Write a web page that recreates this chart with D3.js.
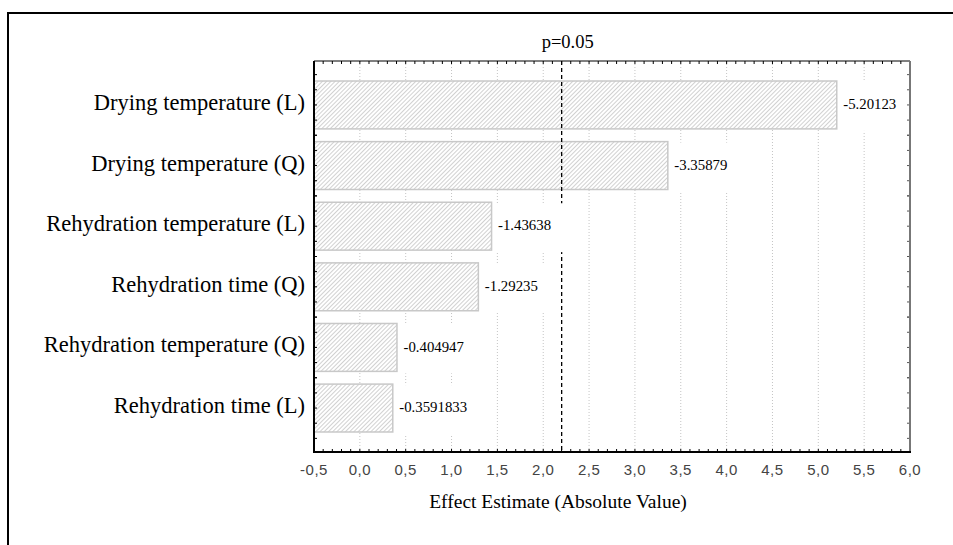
<!DOCTYPE html>
<html>
<head>
<meta charset="utf-8">
<script src="https://cdn.jsdelivr.net/npm/d3@7"></script>
<style>
  body { margin: 0; background: #fff; overflow: hidden; }
  svg { display: block; overflow: hidden; }
  .cat-label { font-family: "Liberation Serif", "Times New Roman", serif; font-size: 22.5px; fill: #000; }
  .val-label { font-family: "Liberation Serif", "Times New Roman", serif; font-size: 14.8px; fill: #000; }
  .tick-label { font-family: "Liberation Sans", Arial, sans-serif; font-size: 15px; fill: #444; letter-spacing: 0.5px; }
  .title { font-family: "Liberation Serif", "Times New Roman", serif; font-size: 18.5px; fill: #000; }
  .x-title { font-family: "Liberation Serif", "Times New Roman", serif; font-size: 19.5px; fill: #000; }
</style>
</head>
<body>
<div id="chart"></div>
<script>
////////////////////////////////////////////////////////////////////
////////////////////////////  Data  ////////////////////////////////
const factors = [
  "Drying temperature (L)",
  "Drying temperature (Q)",
  "Rehydration temperature (L)",
  "Rehydration time (Q)",
  "Rehydration temperature (Q)",
  "Rehydration time (L)"
];
const effects = [-5.20123, -3.35879, -1.43638, -1.29235, -0.404947, -0.3591833];
const effectLabels = ["-5.20123", "-3.35879", "-1.43638", "-1.29235", "-0.404947", "-0.3591833"];
const xTicks = [-0.5, 0, 0.5, 1, 1.5, 2, 2.5, 3, 3.5, 4, 4.5, 5, 5.5, 6];
const xDomain = [-0.5, 6.0];
const pCrit = 2.201;
const pLabel = "p=0.05";
const xTitle = "Effect Estimate (Absolute Value)";

////////////////////////////////////////////////////////////////////
////////////////////////////  Init  ////////////////////////////////
const width = 953;
const height = 545;
const plot = { left: 314, right: 910, top: 61, bottom: 452 };

const svg = d3.select("#chart").append("svg")
  .attr("width", width)
  .attr("height", height);

// hatch pattern for bars
const defs = svg.append("defs");
const hatch = defs.append("pattern")
  .attr("id", "hatch")
  .attr("patternUnits", "userSpaceOnUse")
  .attr("width", 3)
  .attr("height", 3)
  .attr("patternTransform", "rotate(45)");
hatch.append("rect").attr("width", 3).attr("height", 3).attr("fill", "#fff");
hatch.append("line")
  .attr("x1", 0).attr("y1", 0).attr("x2", 0).attr("y2", 3)
  .attr("stroke", "#a4a4a4").attr("stroke-width", 1);

// scales
const xScale = d3.scaleLinear().domain(xDomain).range([plot.left, plot.right]);
const yScale = d3.scaleBand()
  .domain(factors)
  .range([plot.top, plot.bottom])
  .paddingInner(0.21)
  .paddingOuter(0.33);

const locale = d3.formatLocale({ decimal: ",", thousands: ".", grouping: [3], currency: ["", ""], minus: "-" });
const fmt = locale.format(".1f");

const data = factors.map((f, i) => ({ name: f, value: effects[i], label: effectLabels[i] }));

// outer frame (only top and left edges are inside the picture)
svg.append("path")
  .attr("d", `M8,${height}V13H${width}`)
  .attr("fill", "none").attr("stroke", "#000").attr("stroke-width", 2);

// grid
svg.append("g")
  .selectAll("line")
  .data(xTicks.filter((d) => d > xDomain[0] && d < xDomain[1]))
  .enter()
  .append("line")
  .attr("x1", (d) => xScale(d)).attr("x2", (d) => xScale(d))
  .attr("y1", plot.top).attr("y2", plot.bottom)
  .attr("stroke", "#c4c4c4")
  .attr("stroke-width", 1)
  .attr("stroke-dasharray", "1,2");

// bars
svg.append("g")
  .selectAll("rect")
  .data(data)
  .enter()
  .append("rect")
  .attr("x", xScale(xDomain[0]))
  .attr("y", (d) => yScale(d.name))
  .attr("width", (d) => xScale(Math.abs(d.value)) - xScale(xDomain[0]))
  .attr("height", yScale.bandwidth())
  .attr("fill", "url(#hatch)")
  .attr("stroke", "#c8c8c8")
  .attr("stroke-width", 1.5);

// critical line
svg.append("line")
  .attr("x1", xScale(pCrit)).attr("x2", xScale(pCrit))
  .attr("y1", plot.top).attr("y2", plot.bottom)
  .attr("stroke", "#000")
  .attr("stroke-width", 1.3)
  .attr("stroke-dasharray", "4,3");

svg.append("text")
  .attr("class", "title")
  .attr("x", xScale(pCrit) + 6)
  .attr("y", 48)
  .attr("text-anchor", "middle")
  .text(pLabel);

// value labels with white boxes
const valG = svg.append("g")
  .selectAll("g")
  .data(data)
  .enter()
  .append("g");

valG.append("rect").attr("fill", "#fff");
const valTexts = valG.append("text")
  .attr("class", "val-label")
  .attr("x", (d) => xScale(Math.abs(d.value)) + 6.5)
  .attr("y", (d) => yScale(d.name) + yScale.bandwidth() / 2)
  .attr("dy", "0.28em")
  .text((d) => d.label);

valTexts.each(function (d) {
  const w = this.getComputedTextLength();
  d3.select(this.parentNode).select("rect")
    .attr("x", xScale(Math.abs(d.value)) + 2)
    .attr("y", yScale(d.name) + 1)
    .attr("width", w + 18)
    .attr("height", yScale.bandwidth() + 1);
});

// category labels
svg.append("g")
  .selectAll("text")
  .data(data)
  .enter()
  .append("text")
  .attr("class", "cat-label")
  .attr("x", 305)
  .attr("y", (d) => yScale(d.name) + yScale.bandwidth() / 2)
  .attr("dy", "0.22em")
  .attr("text-anchor", "end")
  .text((d) => d.name);

// minor ticks on top / bottom
const minorX = d3.range(Math.round(xDomain[0] * 10), Math.round(xDomain[1] * 10) + 1).map((d) => d / 10);
const tickG = svg.append("g").attr("stroke", "#000").attr("stroke-width", 1);
tickG.selectAll(".tt")
  .data(minorX)
  .enter()
  .append("line")
  .attr("x1", (d) => xScale(d)).attr("x2", (d) => xScale(d))
  .attr("y1", plot.top).attr("y2", plot.top + 3);
tickG.selectAll(".tb")
  .data(minorX)
  .enter()
  .append("line")
  .attr("x1", (d) => xScale(d)).attr("x2", (d) => xScale(d))
  .attr("y1", plot.bottom).attr("y2", plot.bottom - 3);

// ticks on left / right at quarter steps around band centres
const yTickPos = [];
factors.forEach((f) => {
  const c = yScale(f) + yScale.bandwidth() / 2;
  [-2, -1, 0, 1, 2].forEach((k) => {
    const y = c + (k * yScale.step()) / 4;
    if (y > plot.top + 1 && y < plot.bottom - 1) yTickPos.push(y);
  });
});
tickG.selectAll(".tl")
  .data(yTickPos)
  .enter()
  .append("line")
  .attr("x1", plot.left).attr("x2", plot.left + 3)
  .attr("y1", (d) => d).attr("y2", (d) => d);
tickG.selectAll(".tr")
  .data(yTickPos)
  .enter()
  .append("line")
  .attr("x1", plot.right).attr("x2", plot.right - 3)
  .attr("y1", (d) => d).attr("y2", (d) => d)
  .attr("stroke", "#555");

// frame of plot
svg.append("line")
  .attr("x1", plot.left).attr("x2", plot.right)
  .attr("y1", plot.top).attr("y2", plot.top)
  .attr("stroke", "#000").attr("stroke-width", 1);
svg.append("line")
  .attr("x1", plot.right).attr("x2", plot.right)
  .attr("y1", plot.top).attr("y2", plot.bottom)
  .attr("stroke", "#777").attr("stroke-width", 2);
svg.append("line")
  .attr("x1", plot.left).attr("x2", plot.right + 1)
  .attr("y1", plot.bottom).attr("y2", plot.bottom)
  .attr("stroke", "#000").attr("stroke-width", 2);
svg.append("line")
  .attr("x1", plot.left).attr("x2", plot.left)
  .attr("y1", plot.top).attr("y2", plot.bottom + 1)
  .attr("stroke", "#000").attr("stroke-width", 2);

// x tick labels
svg.append("g")
  .selectAll("text")
  .data(xTicks)
  .enter()
  .append("text")
  .attr("class", "tick-label")
  .attr("x", (d) => xScale(d))
  .attr("y", 475)
  .attr("text-anchor", "middle")
  .text((d) => fmt(d));

// axis title
svg.append("text")
  .attr("class", "x-title")
  .attr("x", 558)
  .attr("y", 508)
  .attr("text-anchor", "middle")
  .text(xTitle);
</script>
</body>
</html>
